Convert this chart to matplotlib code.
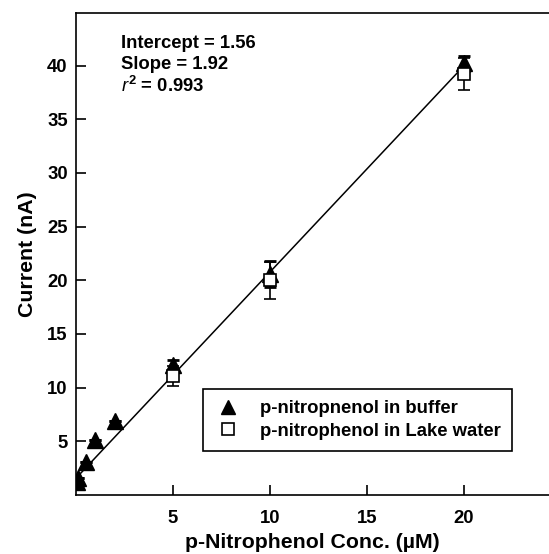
"""
Calibration plot: current vs p-nitrophenol concentration.
"""

import numpy as np
import matplotlib
matplotlib.use('Agg')
import matplotlib.pyplot as plt
from matplotlib.lines import Line2D

plt.rcParams['font.family'] = ['Liberation Sans', 'DejaVu Sans']
plt.rcParams['mathtext.fontset'] = 'custom'
plt.rcParams['mathtext.it'] = 'Liberation Sans:italic'
plt.rcParams['mathtext.rm'] = 'Liberation Sans:bold'

# Data
# ----------------------------------------------------------------------------

conc_buffer = [0.05, 0.1, 0.5, 1, 2, 5, 10, 20]
curr_buffer = [1.2, 1.6, 3.1, 5.1, 6.9, 12.1, 20.6, 40.2]
err_buffer = [0, 0, 0, 0, 0, 0.5, 1.2, 0.7]

conc_lake = [5, 10, 20]
curr_lake = [11.1, 20.0, 39.2]
err_lake = [0.9, 1.7, 1.5]

intercept = 1.56
slope = 1.92
r2 = 0.993

xticks = [5, 10, 15, 20]
yticks = [5, 10, 15, 20, 25, 30, 35, 40]

labels = ['p-nitropnenol in buffer', 'p-nitrophenol in Lake water']

# Plot
# ----------------------------------------------------------------------------

fig = plt.figure(figsize=(5.49, 5.54), dpi=100)
ax = fig.add_axes([0.1384, 0.1065, 0.8616, 0.87])

xfit = np.array([0, 20])
ax.plot(xfit, intercept + slope * xfit, color='k', lw=1.1, zorder=1)

ax.errorbar(conc_buffer, curr_buffer, yerr=err_buffer, fmt='^', color='k',
            ms=11, capsize=4, capthick=2, elinewidth=1.2, zorder=3)
ax.errorbar(conc_lake, curr_lake, yerr=err_lake, fmt='s', mfc='white',
            mec='k', mew=1.2, color='k', ms=8.5, capsize=4, capthick=2,
            elinewidth=1.2, zorder=4)

ax.set_xlim(0, 24.4)
ax.set_ylim(0, 44.9)
ax.set_xticks(xticks)
ax.set_yticks(yticks)
ax.tick_params(direction='in', length=7, width=1.2, labelsize=13.3)
ax.tick_params(axis='x', pad=11)
ax.tick_params(axis='y', pad=6)
for lab in ax.get_xticklabels() + ax.get_yticklabels():
    lab.set_fontweight('bold')

ax.spines['right'].set_visible(False)
for s in ['left', 'bottom', 'top']:
    ax.spines[s].set_linewidth(1.2)

ax.set_xlabel('p-Nitrophenol Conc. (µM)', fontsize=15.3, fontweight='bold',
              labelpad=4)
ax.set_ylabel('Current (nA)', fontsize=15.3, fontweight='bold', labelpad=7)

ax.text(0.096, 0.937, f'Intercept = {intercept:.2f}', transform=ax.transAxes,
        fontsize=13.3, fontweight='bold', va='center')
ax.text(0.096, 0.893, f'Slope = {slope:.2f}', transform=ax.transAxes,
        fontsize=13.3, fontweight='bold', va='center')
ax.text(0.096, 0.848, r'$\mathit{r}^{\mathit{2}}$' + f' = {r2:.3f}',
        transform=ax.transAxes, fontsize=13.3, fontweight='bold', va='center')

handles = [
    Line2D([], [], ls='none', marker='^', color='k', ms=10),
    Line2D([], [], ls='none', marker='s', mfc='white', mec='k', mew=1.2, ms=8),
]
leg = ax.legend(handles, labels, loc='lower left',
                bbox_to_anchor=(0.268, 0.092), fancybox=False, edgecolor='k',
                framealpha=1, prop={'weight': 'bold', 'size': 13.3},
                handletextpad=1.0, handlelength=1.5, borderpad=0.6,
                labelspacing=0.3, borderaxespad=0)
leg.get_frame().set_linewidth(1.2)

fig.savefig('out.png', dpi=100)
